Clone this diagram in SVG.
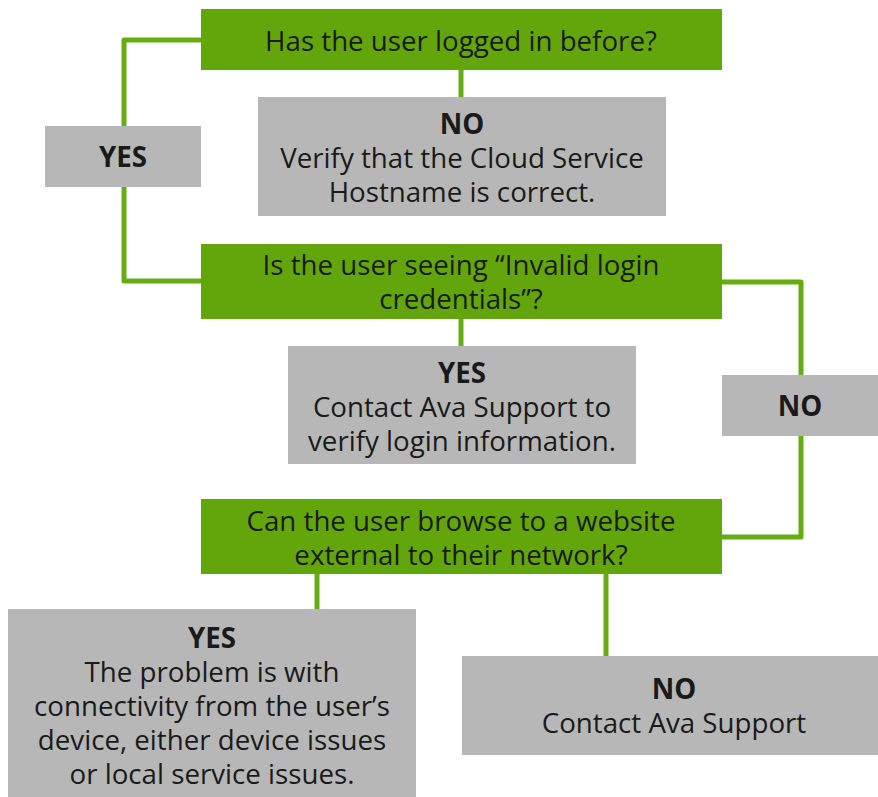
<svg xmlns="http://www.w3.org/2000/svg" width="878" height="797" viewBox="0 0 878 797">
<style>
.q{fill:#62a60c}
.a{fill:#b7b7b7}
text{font-family:"Open Sans","Noto Sans","Liberation Sans",sans-serif;font-size:27.7px;fill:#1a1a1a;text-anchor:middle}
.b{font-weight:bold}
.c{fill:none;stroke:#66ad12;stroke-width:5;stroke-linejoin:round}
</style>
<rect width="878" height="797" fill="#ffffff"/>
<g id="connectors">
<path class="c" d="M201,40 H124 V126"/>
<path class="c" d="M124,187 V281 H201"/>
<path class="c" d="M461,70 V97"/>
<path class="c" d="M461,319 V346"/>
<path class="c" d="M722,282 H801 V375"/>
<path class="c" d="M801,436 V537 H722"/>
<path class="c" d="M317,574 V609"/>
<path class="c" d="M606,574 V656"/>
</g>
<g id="q1">
<rect class="q" x="201" y="9" width="521" height="61"/>
<text x="461" y="51">Has the user logged in before?</text>
</g>
<g id="no1">
<rect class="a" x="258" y="97" width="408" height="119"/>
<text x="462" y="134" class="b">NO</text>
<text x="462" y="168">Verify that the Cloud Service</text>
<text x="462" y="202">Hostname is correct.</text>
</g>
<g id="yes1">
<rect class="a" x="45" y="126" width="156" height="61"/>
<text x="123" y="167" class="b">YES</text>
</g>
<g id="q2">
<rect class="q" x="201" y="244" width="521" height="75"/>
<text x="461" y="275">Is the user seeing “Invalid login</text>
<text x="461" y="309">credentials”?</text>
</g>
<g id="yes2">
<rect class="a" x="288" y="346" width="348" height="118"/>
<text x="462" y="383" class="b">YES</text>
<text x="462" y="417">Contact Ava Support to</text>
<text x="462" y="451">verify login information.</text>
</g>
<g id="no2">
<rect class="a" x="722" y="375" width="156" height="61"/>
<text x="800" y="416" class="b">NO</text>
</g>
<g id="q3">
<rect class="q" x="201" y="499" width="521" height="75"/>
<text x="461" y="531">Can the user browse to a website</text>
<text x="461" y="565">external to their network?</text>
</g>
<g id="yes3">
<rect class="a" x="8" y="609" width="408" height="188"/>
<text x="212" y="648" class="b">YES</text>
<text x="212" y="682">The problem is with</text>
<text x="212" y="716">connectivity from the user’s</text>
<text x="212" y="750">device, either device issues</text>
<text x="212" y="784">or local service issues.</text>
</g>
<g id="no3">
<rect class="a" x="462" y="656" width="416" height="99"/>
<text x="674" y="699" class="b">NO</text>
<text x="674" y="733">Contact Ava Support</text>
</g>
</svg>
